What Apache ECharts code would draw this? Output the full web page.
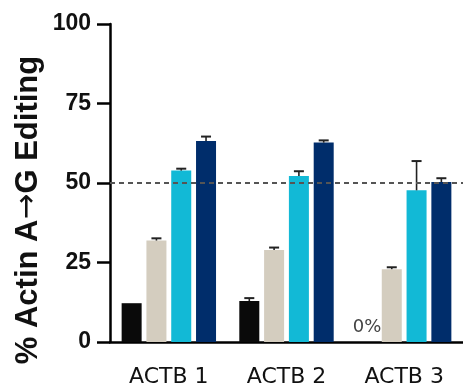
<!DOCTYPE html>
<html><head><meta charset="utf-8">
<script src="https://cdn.jsdelivr.net/npm/echarts@6/dist/echarts.min.js"></script>
<style>html,body{margin:0;padding:0;background:#fff}#c{width:463px;height:388px}</style>
</head><body><div id="c"></div>
<script>
const categories = ['ACTB 1', 'ACTB 2', 'ACTB 3'];
const seriesNames = ['S1', 'S2', 'S3', 'S4'];
const seriesColors = ['#0a0a0a', '#d4cdbf', '#12b9d6', '#002d6b'];
const values = [
  [12.2, 12.9, 0],
  [31.9, 28.9, 22.9],
  [53.9, 52.2, 47.7],
  [63.2, 62.7, 50.3]
];
const errHigh = [
  [null, 13.8, null],
  [32.6, 29.7, 23.5],
  [54.5, 53.7, 56.9],
  [64.6, 63.4, 51.5]
];
const yTicks = [0, 25, 50, 75, 100];
const refLine = 50;
const yTitleParts = ['% Actin A', '\u2192', 'G Editing'];

const BW = 20, GAP = 4.8;
const barSeries = values.map((vals, si) => ({
  type: 'bar', name: seriesNames[si], barWidth: BW, barGap: (GAP / BW * 100) + '%',
  itemStyle: { color: seriesColors[si] },
  data: vals.map((v, ci) => (v === 0 ? {
    value: v,
    label: { show: true, position: 'top', distance: 6, formatter: '0%', color: '#444', fontSize: 18, fontFamily: 'DejaVu Sans' }
  } : v)),
  z: 2
}));
barSeries[0].markLine = {
  silent: true, symbol: 'none', label: { show: false },
  lineStyle: { type: [5, 4], color: '#555', width: 2 },
  data: [{ yAxis: refLine }]
};
const errData = [];
errHigh.forEach((arr, si) => arr.forEach((h, ci) => { if (h != null) errData.push([ci, h, si, values[si][ci]]); }));

const chart = echarts.init(document.getElementById('c'));
chart.setOption({
  animation: false,
  grid: { left: 110, right: 0, top: 24, bottom: 46, containLabel: false },
  xAxis: {
    type: 'category', data: categories,
    axisLine: { lineStyle: { color: '#000', width: 2.5 } },
    axisTick: { alignWithLabel: true, length: 12, lineStyle: { color: '#000', width: 2.5 } },
    axisLabel: { color: '#111', fontSize: 22, fontFamily: 'DejaVu Sans', margin: 24 }
  },
  yAxis: {
    type: 'value', min: 0, max: 100, interval: 25,
    axisLine: { show: true, lineStyle: { color: '#000', width: 2.5 } },
    axisTick: { show: true, length: 13, lineStyle: { color: '#000', width: 2.5 } },
    splitLine: { show: false },
    axisLabel: { color: '#111', fontSize: 23, fontWeight: 'bold', fontFamily: 'Liberation Sans', margin: 19,
      formatter: v => (yTicks.indexOf(v) >= 0 ? String(v) : '') }
  },
  graphic: [{
    type: 'text', x: 28, y: 210, rotation: Math.PI / 2,
    style: {
      text: '{a|' + yTitleParts[0] + '}{b|' + yTitleParts[1] + '}{a|' + yTitleParts[2] + '}',
      rich: {
        a: { fontSize: 31, fontWeight: 'bold', fontFamily: 'Liberation Sans', fill: '#111', color: '#111' },
        b: { fontSize: 31, fontFamily: 'DejaVu Sans', fill: '#111', color: '#111' }
      },
      align: 'center', verticalAlign: 'middle'
    }
  }],
  series: barSeries.concat([{
    type: 'custom', z: 3, data: errData,
    encode: { x: 0, y: 1 },
    renderItem: (params, api) => {
      const ci = api.value(0), h = api.value(1), si = api.value(2), v = api.value(3);
      const top = api.coord([ci, h]);
      const base = api.coord([ci, v]);
      const x = top[0] + (si - 1.5) * (BW + GAP);
      const st = { stroke: '#222', lineWidth: 1.6 };
      return { type: 'group', children: [
        { type: 'line', shape: { x1: x, y1: base[1], x2: x, y2: top[1] }, style: st },
        { type: 'line', shape: { x1: x - 5, y1: top[1], x2: x + 5, y2: top[1] }, style: { stroke: '#222', lineWidth: 2 } }
      ] };
    }
  }])
});
</script></body></html>
